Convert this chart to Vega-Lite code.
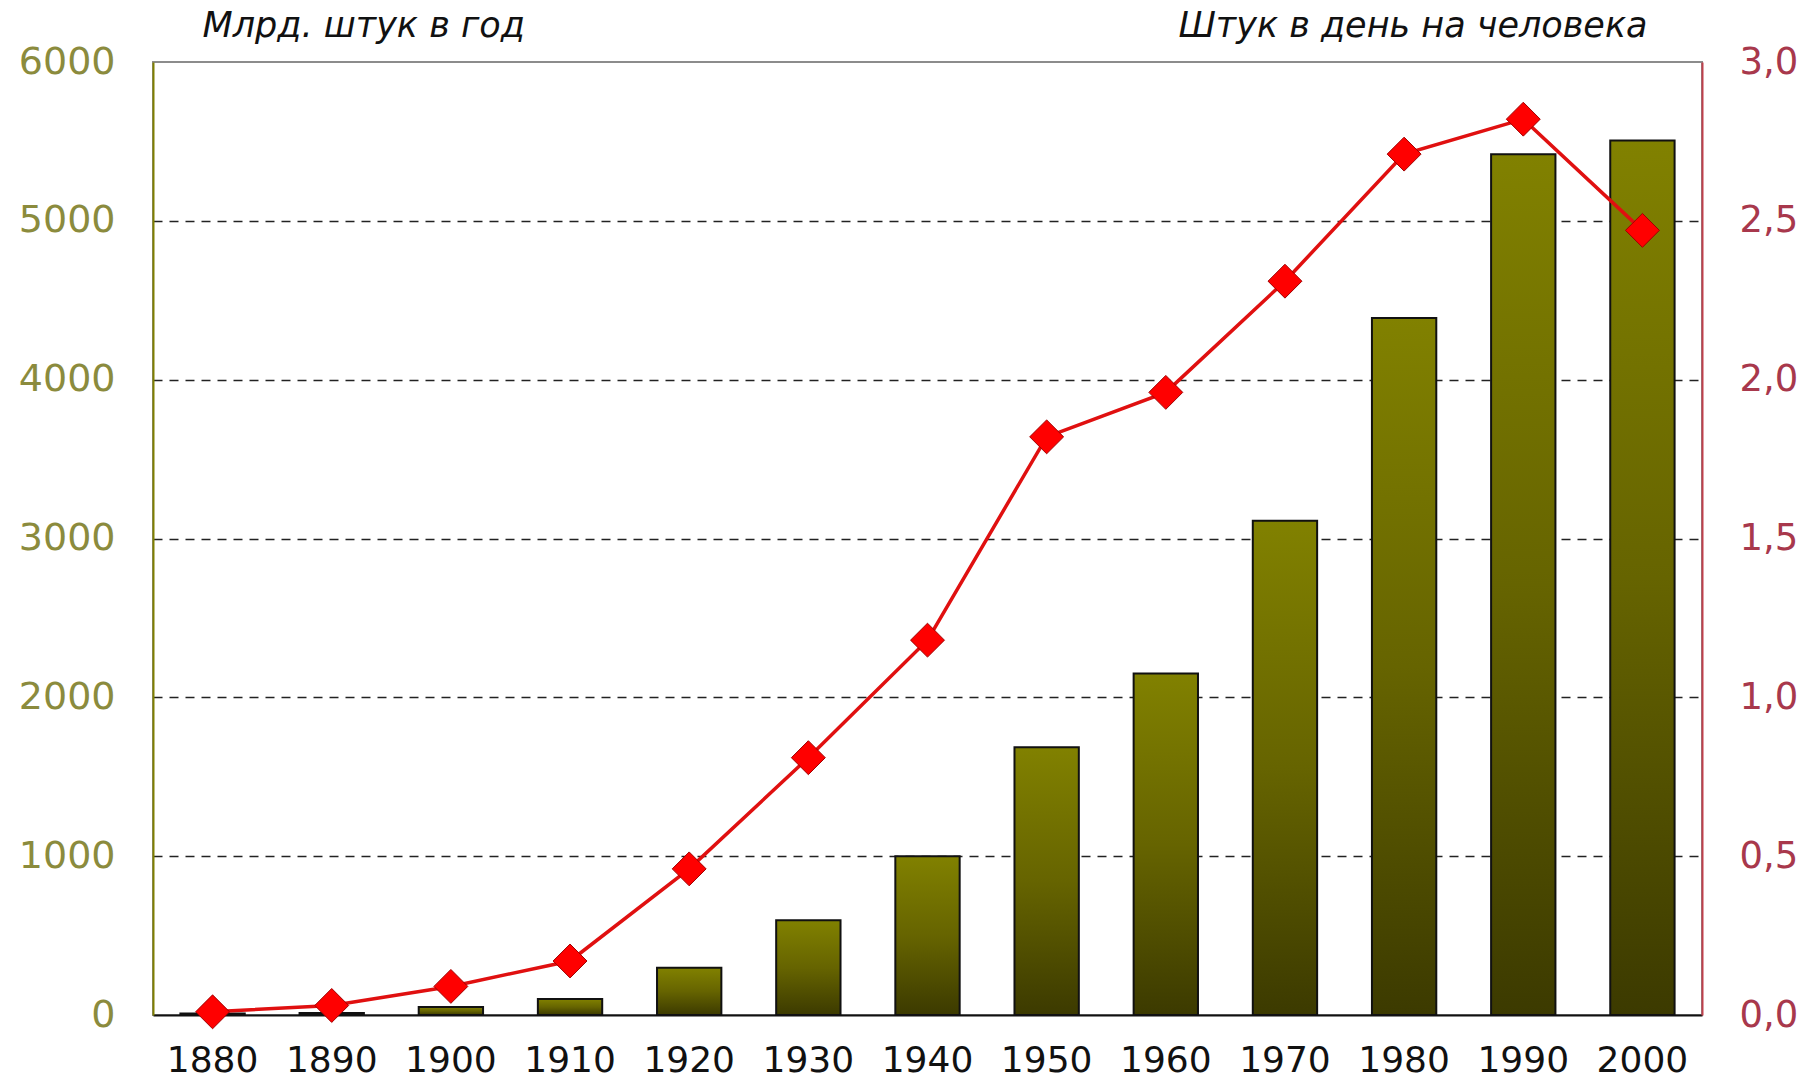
{
  "$schema": "https://vega.github.io/schema/vega-lite/v6.json",
  "width": 1549,
  "height": 953,
  "autosize": {"type": "none"},
  "padding": {"left": 153, "top": 62, "right": 104, "bottom": 66},
  "background": "white",
  "config": {
    "view": {"stroke": "#8c8c8c", "strokeWidth": 2},
    "font": "DejaVu Sans"
  },
  "data": {
    "values": [
      {"year": "1880", "total": 10, "perCapita": 0.01},
      {"year": "1890", "total": 12, "perCapita": 0.03},
      {"year": "1900", "total": 50, "perCapita": 0.09},
      {"year": "1910", "total": 100, "perCapita": 0.17},
      {"year": "1920", "total": 297, "perCapita": 0.46},
      {"year": "1930", "total": 597, "perCapita": 0.81},
      {"year": "1940", "total": 1000, "perCapita": 1.18},
      {"year": "1950", "total": 1686, "perCapita": 1.82},
      {"year": "1960", "total": 2150, "perCapita": 1.96},
      {"year": "1970", "total": 3112, "perCapita": 2.31},
      {"year": "1980", "total": 4388, "perCapita": 2.71},
      {"year": "1990", "total": 5419, "perCapita": 2.82},
      {"year": "2000", "total": 5505, "perCapita": 2.47}
    ]
  },
  "encoding": {
    "x": {
      "field": "year",
      "type": "ordinal",
      "scale": {"paddingInner": 0.46, "paddingOuter": 0.23},
      "axis": {
        "title": null,
        "labelAngle": 0,
        "labelFont": "DejaVu Sans",
        "labelFontSize": 36,
        "labelColor": "#111111",
        "labelPadding": 28,
        "ticks": false,
        "tickSize": 0,
        "domainColor": "#111111",
        "domainWidth": 2,
        "grid": false
      }
    }
  },
  "layer": [
    {
      "mark": {
        "type": "bar",
        "fill": {
          "gradient": "linear",
          "x1": 0, "y1": 0, "x2": 0, "y2": 1,
          "stops": [
            {"offset": 0, "color": "#818100"},
            {"offset": 0.5, "color": "#666400"},
            {"offset": 1, "color": "#3c3a00"}
          ]
        },
        "stroke": "#111111",
        "strokeWidth": 2
      },
      "encoding": {
        "y": {
          "field": "total",
          "type": "quantitative",
          "scale": {"domain": [0, 6000], "nice": false},
          "axis": {
            "values": [0, 1000, 2000, 3000, 4000, 5000, 6000],
            "orient": "left",
            "format": "d",
            "labelFont": "DejaVu Sans",
            "labelFontSize": 38,
            "labelColor": "#8b8b3d",
            "labelPadding": 38,
            "ticks": false,
            "tickSize": 0,
            "domainColor": "#808000",
            "domainWidth": 2,
            "grid": true,
            "gridColor": "#222222",
            "gridDash": [9, 7],
            "gridWidth": 1.5,
            "gridOpacity": {"condition": {"test": "datum.value == 0 || datum.value == 6000", "value": 0}, "value": 1},
            "title": "Млрд. штук в год",
            "titleAngle": 0,
            "titleAlign": "left",
            "titleBaseline": "middle",
            "titleX": 49,
            "titleY": -37,
            "titleFont": "DejaVu Sans",
            "titleFontSize": 35,
            "titleFontStyle": "italic",
            "titleFontWeight": "normal",
            "titleColor": "#111111"
          }
        }
      }
    },
    {
      "encoding": {
        "y": {
          "field": "perCapita",
          "type": "quantitative",
          "scale": {"domain": [0, 3], "nice": false},
          "axis": {
            "values": [0, 0.5, 1, 1.5, 2, 2.5, 3],
            "orient": "right",
            "labelExpr": "replace(format(datum.value, '.1f'), '.', ',')",
            "labelFont": "DejaVu Sans",
            "labelFontSize": 37,
            "labelColor": "#a8384c",
            "labelPadding": 37,
            "ticks": false,
            "tickSize": 0,
            "domainColor": "#c0404c",
            "domainWidth": 2,
            "grid": false,
            "title": "Штук в день на человека",
            "titleAngle": 0,
            "titleAlign": "right",
            "titleBaseline": "middle",
            "titleX": -55,
            "titleY": -37,
            "titleFont": "DejaVu Sans",
            "titleFontSize": 35,
            "titleFontStyle": "italic",
            "titleFontWeight": "normal",
            "titleColor": "#111111"
          }
        }
      },
      "layer": [
        {
          "mark": {"type": "line", "color": "#e01010", "strokeWidth": 3.5}
        },
        {
          "mark": {
            "type": "point",
            "shape": "diamond",
            "filled": true,
            "fill": "#ff0000",
            "stroke": "#a00000",
            "strokeWidth": 1,
            "size": 1150,
            "opacity": 1
          }
        }
      ]
    }
  ],
  "resolve": {"scale": {"y": "independent"}}
}
